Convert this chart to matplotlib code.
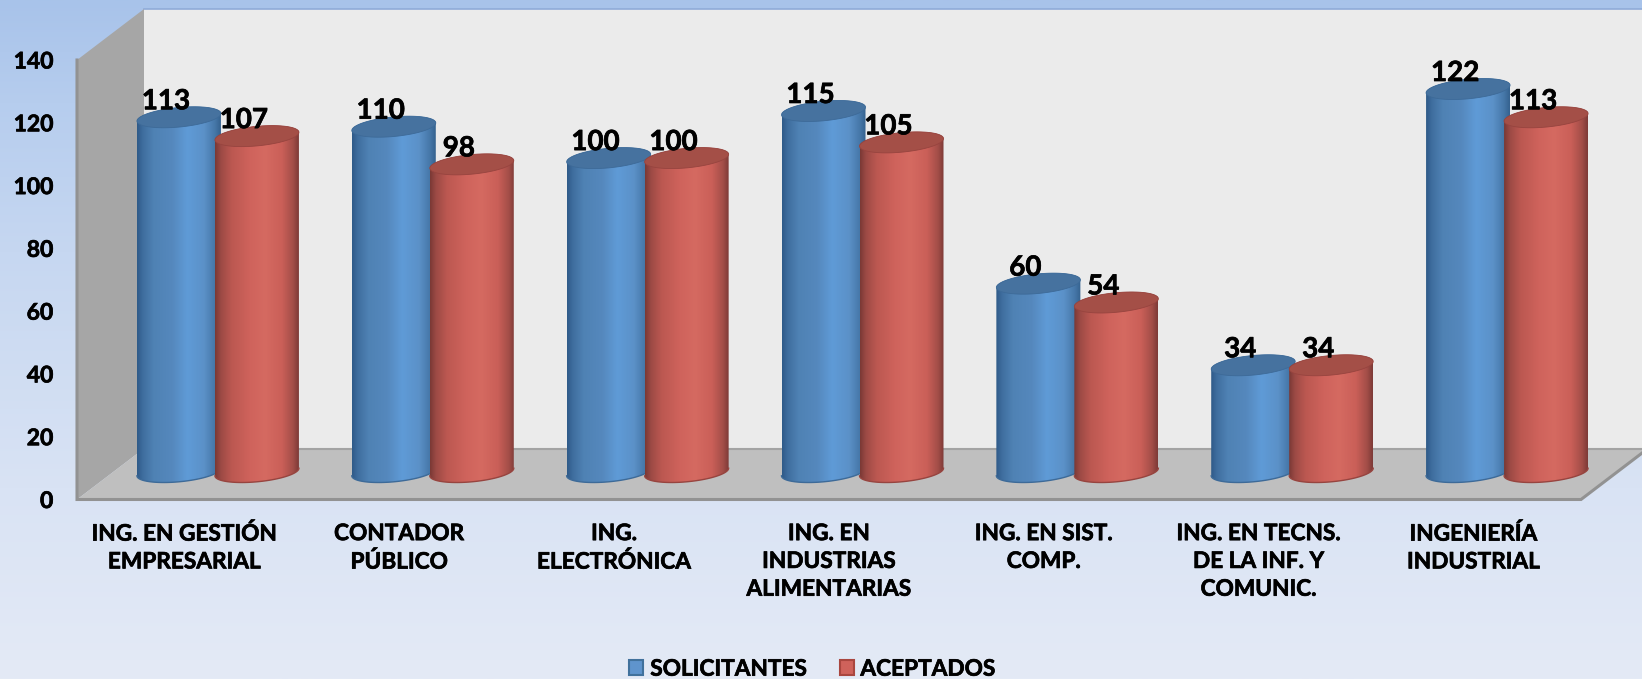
import numpy as np
import matplotlib
matplotlib.use('Agg')
import matplotlib.pyplot as plt
import matplotlib.patheffects as pe
from matplotlib.colors import LinearSegmentedColormap
from matplotlib.patches import Patch, PathPatch, Polygon
from matplotlib.path import Path

categorias = ['ING. EN GESTIÓN\nEMPRESARIAL', 'CONTADOR\nPÚBLICO', 'ING.\nELECTRÓNICA',
              'ING. EN\nINDUSTRIAS\nALIMENTARIAS', 'ING. EN SIST.\nCOMP.',
              'ING. EN TECNS.\nDE LA INF. Y\nCOMUNIC.', 'INGENIERÍA\nINDUSTRIAL']
solicitantes = [113, 110, 100, 115, 60, 34, 122]
aceptados = [107, 98, 100, 105, 54, 34, 113]
ticks_y = [0, 20, 40, 60, 80, 100, 120, 140]

ANCHO, ALTO = 1642, 679
plt.rcParams['font.family'] = ['Lato', 'DejaVu Sans']
plt.rcParams['font.weight'] = 'bold'
grueso = [pe.withStroke(linewidth=0.5, foreground='black')]

fig = plt.figure(figsize=(ANCHO / 100, ALTO / 100), dpi=100)

# fondo con degradado vertical
fondo = fig.add_axes([0, 0, 1, 1], zorder=-1)
cmap_fondo = LinearSegmentedColormap.from_list('fondo', [
    (0.0, '#a8c3ea'), (0.15, '#b6cdee'), (0.37, '#c6d7f1'),
    (0.72, '#d9e3f4'), (1.0, '#e4eaf6')])
fondo.imshow(np.linspace(0, 1, 256).reshape(-1, 1), cmap=cmap_fondo, aspect='auto')
fondo.axis('off')

# el eje es el plano frontal de la caja 3D
izq, der, arriba, abajo = 77, 1581, 60, 499.5
ax = fig.add_axes([izq / ANCHO, 1 - abajo / ALTO, (der - izq) / ANCHO, (abajo - arriba) / ALTO])
ax.set_xlim(-0.5, 6.5)
ax.set_ylim(0, 140)
ax.patch.set_visible(False)
for s in ax.spines.values():
    s.set_visible(False)

px_x = (der - izq) / 7
px_y = (abajo - arriba) / 140

# profundidad de la caja, en unidades de datos
fx = 67 / px_x
fy = 51 / px_y
x0, x1 = -0.5, 6.5
muro = dict(clip_on=False, zorder=1, linewidth=0)
ax.add_patch(Polygon([(x0 + fx, fy), (x1 + fx, fy), (x1 + fx, 140 + fy), (x0 + fx, 140 + fy)],
                     facecolor='#ebebeb', **muro))
ax.plot([x0 + fx, x1 + fx], [140 + fy, 140 + fy], color='#8fabd9', lw=1.2, clip_on=False, zorder=1)
ax.add_patch(Polygon([(x0, 0), (x0 + fx, fy), (x0 + fx, 140 + fy), (x0, 140)],
                     facecolor='#a6a6a6', **muro))
ax.add_patch(Polygon([(x0, 0), (x1, 0), (x1 + fx, fy), (x0 + fx, fy)],
                     facecolor='#bfbfbf', **muro))
ax.plot([x0 + fx, x1 + fx], [fy, fy], color='#a3a3a3', lw=1.5, clip_on=False, zorder=1.1)
ax.plot([x0, x0, x1, x1 + fx], [140, 0, 0, fy], color='#929292', lw=2.2, clip_on=False,
        zorder=1.2, solid_joinstyle='miter')

cmap_azul = LinearSegmentedColormap.from_list('azul', [
    (0.0, '#2f5a88'), (0.07, '#3f6e9f'), (0.2, '#4f82b4'), (0.42, '#5588bd'),
    (0.6, '#5f9bd7'), (0.8, '#5b91c8'), (0.93, '#4677a8'), (1.0, '#35628f')])
cmap_rojo = LinearSegmentedColormap.from_list('rojo', [
    (0.0, '#7a3835'), (0.07, '#9c4a45'), (0.2, '#bc5851'), (0.42, '#cf635c'),
    (0.6, '#d56a61'), (0.8, '#ca5f58'), (0.93, '#a34e48'), (1.0, '#7d3a37')])

# medidas del cilindro
a = 42 / px_x
b = 9.8 / px_y
sesgo = 3.8 / px_y
prof_x = 33.5 / px_x
prof_y = 27.5 / px_y
sep = 78 / px_x


def cilindro(xc, valor, cmap, tapa, borde, z):
    yb = prof_y
    yt = prof_y + valor
    t = np.linspace(np.pi, 2 * np.pi, 60)
    inf = np.column_stack([xc + a * np.cos(t), yb + sesgo * np.cos(t) + b * np.sin(t)])
    t2 = np.linspace(0, np.pi, 60)
    sup = np.column_stack([xc + a * np.cos(t2), yt + sesgo * np.cos(t2) + b * np.sin(t2)])
    contorno = PathPatch(Path(np.vstack([inf, sup, inf[:1]]), closed=True), facecolor='none',
                         edgecolor='none', transform=ax.transData, clip_on=False, zorder=z)
    ax.add_patch(contorno)
    im = ax.imshow(np.linspace(0, 1, 256).reshape(1, -1), cmap=cmap, aspect='auto',
                   extent=(xc - a, xc + a, yb - b - sesgo, yt + b + sesgo), zorder=z)
    im.set_clip_box(fig.bbox)
    im.set_clip_path(contorno)
    ax.plot(inf[:, 0], inf[:, 1], color=borde, lw=1, clip_on=False, zorder=z + 0.1)
    t3 = np.linspace(0, 2 * np.pi, 120)
    ax.fill(xc + a * np.cos(t3), yt + sesgo * np.cos(t3) + b * np.sin(t3), facecolor=tapa,
            edgecolor=borde, lw=0.6, clip_on=False, zorder=z + 0.2)


for i in range(len(categorias)):
    xa = i + prof_x - sep / 2
    xr = i + prof_x + sep / 2
    cilindro(xa, solicitantes[i], cmap_azul, '#46729f', '#3d6a98', 3)
    cilindro(xr, aceptados[i], cmap_rojo, '#a44f47', '#97443f', 4)
    for xc, v in ((xa, solicitantes[i]), (xr, aceptados[i])):
        ax.annotate(str(v), (xc, prof_y + v), xytext=(-13, 16), textcoords='offset pixels',
                    ha='center', va='center', fontsize=20, fontweight='bold', color='black',
                    annotation_clip=False, zorder=8, path_effects=grueso)

ax.set_xlim(-0.5, 6.5)
ax.set_ylim(0, 140)
ax.set_yticks(ticks_y)
ax.set_yticklabels(ticks_y, fontsize=16.5, fontweight='bold', path_effects=grueso)
ax.set_xticks(range(len(categorias)))
ax.set_xticklabels(categorias, fontsize=16.3, fontweight='bold', linespacing=1.4, path_effects=grueso)
ax.tick_params(axis='y', length=0, pad=17)
ax.tick_params(axis='x', length=0, pad=17)

handles = [Patch(facecolor='#5f94cd', edgecolor='#41719c', lw=1.5, label='SOLICITANTES'),
           Patch(facecolor='#cf625b', edgecolor='#a9463f', lw=1.5, label='ACEPTADOS')]
leg = fig.legend(handles=handles, loc='lower center', bbox_to_anchor=(0.4948, -0.021), ncols=2,
                 frameon=False, fontsize=16.3, handlelength=0.62, handleheight=0.62,
                 handletextpad=0.3, columnspacing=1.43, borderpad=0.1)
for t in leg.get_texts():
    t.set_path_effects(grueso)

fig.savefig('out.png', dpi=100)
